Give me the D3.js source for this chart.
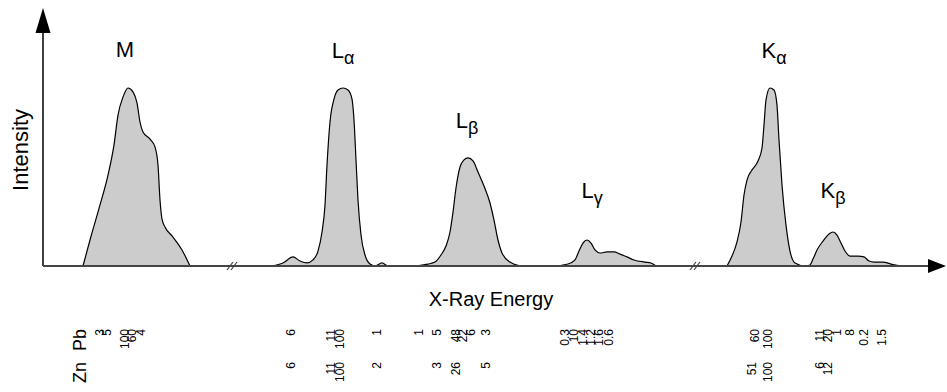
<!DOCTYPE html>
<html>
<head>
<meta charset="utf-8">
<script src="https://cdn.jsdelivr.net/npm/d3@7"></script>
<style>
  body { margin: 0; background: #fff; }
  text { font-family: "Liberation Sans", Arial, sans-serif; fill: #000; }
</style>
</head>
<body>
<div id="chart"></div>
<script>
// spectrum profiles: energy (arbitrary units) and intensity (% of max)
const mEnergy = [40, 47, 57, 65, 71, 75, 80, 85, 90, 94, 97, 100, 107, 112, 115, 117, 119, 122, 129, 139, 147];
const mIntensity = [0, 14.6, 34.3, 51.1, 68, 84.8, 94.9, 100, 97.8, 91.6, 80.9, 75.3, 71.3, 66.9, 56.7, 37.1, 26.4, 21.9, 16.9, 9, 0];

const lEnergy = [229, 240, 250, 257, 264, 270, 275, 279, 282, 284, 287, 291, 295, 300, 305, 309, 311, 313, 315, 318, 322, 327, 332, 339, 345,
  367, 385, 392, 398, 403, 407, 410, 413, 417, 421, 425, 430, 435, 441, 447, 451, 455, 459, 467, 479,
  510, 525, 532, 536, 540, 544, 548, 552, 557, 564, 571, 577, 584, 591, 602, 608, 613];
const lIntensity = [0, 1.7, 5.1, 2.8, 1.7, 3.4, 8.4, 19.1, 34.3, 56.7, 80.9, 93.8, 98.9, 100, 98.9, 93.8, 82, 59.6, 37.1, 17.4, 6.2, 1.1, 0, 1.7, 0,
  0, 1.1, 2.2, 6.2, 11.2, 19.1, 30.3, 43.8, 55.6, 59.6, 60.7, 59, 52.8, 44.9, 35.4, 25.8, 14.6, 7.3, 2.2, 0,
  0, 1.1, 3.4, 8.4, 12.9, 14.6, 12.9, 9, 7.3, 7.9, 7.9, 6.7, 5.1, 3.4, 2.2, 1.7, 0];

const kEnergy = [684, 689, 694, 698, 701, 704, 709, 715, 719, 721, 723, 727, 731, 734, 736, 739, 743, 747, 752, 762,
  767, 770, 774, 780, 786, 790, 794, 798, 802, 807, 815, 821, 826, 831, 840, 848, 859];
const kIntensity = [0, 5.6, 13.5, 24.7, 39.9, 48.3, 53.9, 59, 66.3, 79.2, 93.3, 100, 98.9, 90.4, 70.8, 45.5, 23, 8.4, 1.7, 0,
  0.6, 3.9, 9, 14, 18, 19.1, 17.4, 12.9, 8.4, 5.6, 5.6, 5.1, 2.8, 2.2, 2.2, 1.1, 0];

// peak names
const peakNames = ["M", "L", "L", "L", "K", "K"];
const peakSubs = ["", "α", "β", "γ", "α", "β"];
const peakEnergy = [82, 300, 424, 549, 731, 790];
const peakLabelLevel = [117.4, 116.9, 77.5, 38.2, 116.9, 38.2];

// relative line intensities under the axis
const pbEnergy = [57, 64, 82, 89, 98, 248, 288, 297, 334, 376, 394, 413, 420, 428, 443, 522, 531, 540, 548, 556, 566, 712, 725, 777, 785, 794, 807, 821, 839];
const pbLines = ["3", "5", "100", "60", "4", "6", "11", "100", "1", "1", "5", "48", "22", "6", "3", "0.3", "10", "1.4", "1.2", "1.6", "0.6", "60", "100", "11", "20", "1", "8", "0.2", "1.5"];
const znEnergy = [248, 288, 297, 334, 394, 413, 443, 709, 725, 777, 785];
const znLines = ["6", "11", "100", "2", "3", "26", "5", "51", "100", "6", "12"];

const breakEnergy = [189, 652];

const width = 947, height = 392;
const svg = d3.select("#chart").append("svg")
  .attr("width", width)
  .attr("height", height);

const x = d3.scaleLinear().domain([0, 903]).range([43, 946]);
const y = d3.scaleLinear().domain([0, 100]).range([266, 88]);

const area = d3.area()
  .x(d => x(d[0]))
  .y0(y(0))
  .y1(d => y(d[1]))
  .curve(d3.curveMonotoneX);

const line = d3.line()
  .x(d => x(d[0]))
  .y(d => y(d[1]))
  .curve(d3.curveMonotoneX);

const profiles = [
  d3.zip(mEnergy, mIntensity),
  d3.zip(lEnergy, lIntensity),
  d3.zip(kEnergy, kIntensity)
];

svg.selectAll(".peak")
  .data(profiles)
  .enter().append("path")
  .attr("class", "peak")
  .attr("d", area)
  .attr("fill", "#cccccc");

svg.selectAll(".outline")
  .data(profiles)
  .enter().append("path")
  .attr("class", "outline")
  .attr("d", line)
  .attr("fill", "none")
  .attr("stroke", "#000")
  .attr("stroke-width", 1.2);

// axes with arrows
const x0 = x(0), y0 = y(0), yTop = y(145), xEnd = x(903);
svg.append("line")
  .attr("x1", x0).attr("x2", x0)
  .attr("y1", y0).attr("y2", yTop + 20)
  .attr("stroke", "#000").attr("stroke-width", 1.5);
svg.append("path")
  .attr("d", `M${x0},${yTop}L${x0 - 7.5},${yTop + 25}L${x0 + 7.5},${yTop + 25}Z`)
  .attr("fill", "#000");

svg.append("line")
  .attr("x1", x0).attr("x2", xEnd - 16)
  .attr("y1", y0).attr("y2", y0)
  .attr("stroke", "#444").attr("stroke-width", 1.8);
svg.append("path")
  .attr("d", `M${xEnd},${y0}L${xEnd - 18},${y0 - 7}L${xEnd - 18},${y0 + 7}Z`)
  .attr("fill", "#000");

// axis breaks
breakEnergy.forEach(e => {
  const cx = x(e);
  [-2, 2].forEach(o => {
    svg.append("line")
      .attr("x1", cx + o - 3).attr("y1", y0 + 4)
      .attr("x2", cx + o + 3).attr("y2", y0 - 4)
      .attr("stroke", "#444").attr("stroke-width", 1.2);
  });
});

// peak labels
const labels = svg.selectAll(".plabel")
  .data(peakNames)
  .enter().append("text")
  .attr("class", "plabel")
  .attr("x", (d, i) => x(peakEnergy[i]))
  .attr("y", (d, i) => y(peakLabelLevel[i]))
  .attr("text-anchor", "middle")
  .style("font-size", "22px");
labels.append("tspan").text(d => d);
labels.append("tspan")
  .attr("dy", 6)
  .style("font-size", "18px")
  .text((d, i) => peakSubs[i]);

// axis titles
svg.append("text")
  .attr("transform", `translate(28,${(y0 + yTop) / 2 + 13}) rotate(-90)`)
  .attr("text-anchor", "middle")
  .style("font-size", "22px")
  .text("Intensity");

svg.append("text")
  .attr("x", x(448))
  .attr("y", 306)
  .attr("text-anchor", "middle")
  .style("font-size", "20px")
  .text("X-Ray Energy");

// element rows
function row(energies, names, top) {
  svg.selectAll(null)
    .data(names)
    .enter().append("text")
    .attr("transform", (d, i) => `translate(${x(energies[i])},${top}) rotate(-90)`)
    .attr("text-anchor", "end")
    .attr("dy", "0.35em")
    .style("font-size", "12px")
    .text(d => d);
}
row(pbEnergy, pbLines, 329);
row(znEnergy, znLines, 362);

[["Pb", 329], ["Zn", 362]].forEach(([name, top]) => {
  svg.append("text")
    .attr("transform", `translate(80,${top}) rotate(-90)`)
    .attr("text-anchor", "end")
    .attr("dy", "0.35em")
    .style("font-size", "18px")
    .text(name);
});
</script>
</body>
</html>
